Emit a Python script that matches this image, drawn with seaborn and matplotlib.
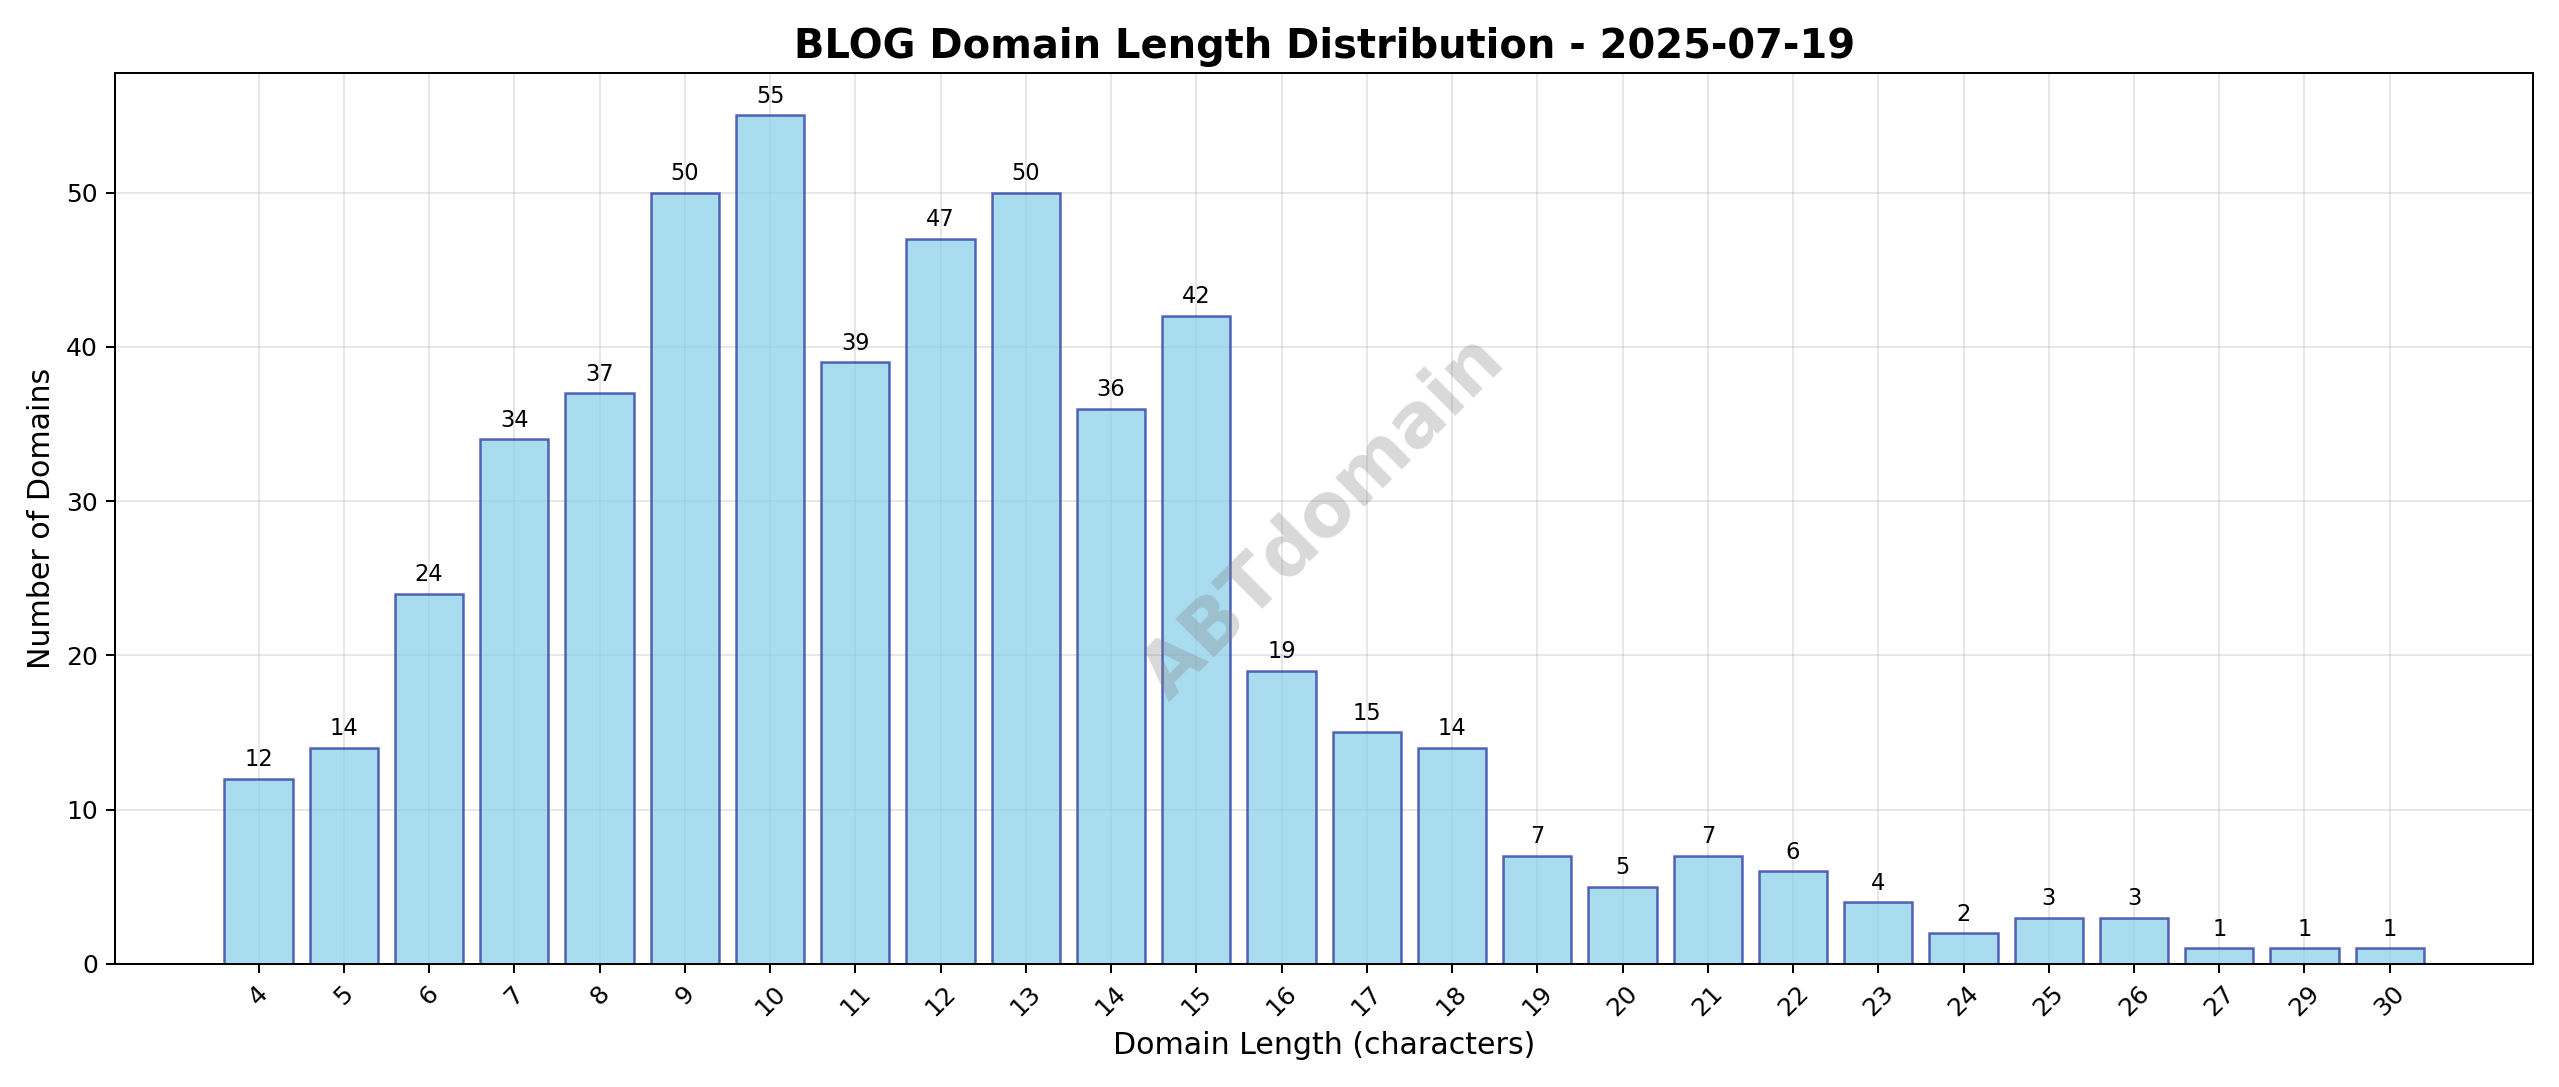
import matplotlib
matplotlib.use("Agg")
import matplotlib.pyplot as plt
import seaborn as sns
import pandas as pd

lengths = [4, 5, 6, 7, 8, 9, 10, 11, 12, 13, 14, 15, 16, 17, 18, 19, 20, 21, 22, 23, 24, 25, 26, 27, 29, 30]
counts = [12, 14, 24, 34, 37, 50, 55, 39, 47, 50, 36, 42, 19, 15, 14, 7, 5, 7, 6, 4, 2, 3, 3, 1, 1, 1]

df = pd.DataFrame({"length": [str(l) for l in lengths], "count": counts})

sns.set_style("ticks")
plt.rcParams['font.family'] = ['DejaVu Sans']
plt.rcParams.update({"text.color": "black", "axes.labelcolor": "black",
                     "xtick.color": "black", "ytick.color": "black",
                     "axes.edgecolor": "black"})

fig, ax = plt.subplots(figsize=(14.222, 6.039), dpi=180)
sns.barplot(data=df, x="length", y="count", ax=ax, color="skyblue",
            saturation=1, alpha=0.7, linewidth=1.0, width=0.8)
for p in ax.patches:
    p.set_edgecolor((0.1, 0.15, 0.6, 0.8))

for i, c in enumerate(counts):
    ax.annotate(str(c), (i, c), xytext=(0, 3), textcoords="offset points",
                ha="center", va="bottom", fontsize=9)

ax.set_title("BLOG Domain Length Distribution - 2025-07-19", fontsize=16, fontweight="bold")
ax.set_xlabel("Domain Length (characters)", fontsize=12)
ax.set_ylabel("Number of Domains", fontsize=12)
ax.tick_params(axis="x", rotation=45)
ax.grid(True, alpha=0.3, color="#b0b0b0")
ax.set_axisbelow(True)
ax.set_xlim(-1.68, len(lengths) - 1 + 1.68)
ax.set_ylim(0, 57.75)

ax.text(0.5, 0.5, "ABTdomain", transform=ax.transAxes, fontsize=30,
        color="gray", alpha=0.3, fontweight="bold", rotation=45,
        ha="center", va="center")

plt.tight_layout()
fig.savefig("out.png", dpi=180)
